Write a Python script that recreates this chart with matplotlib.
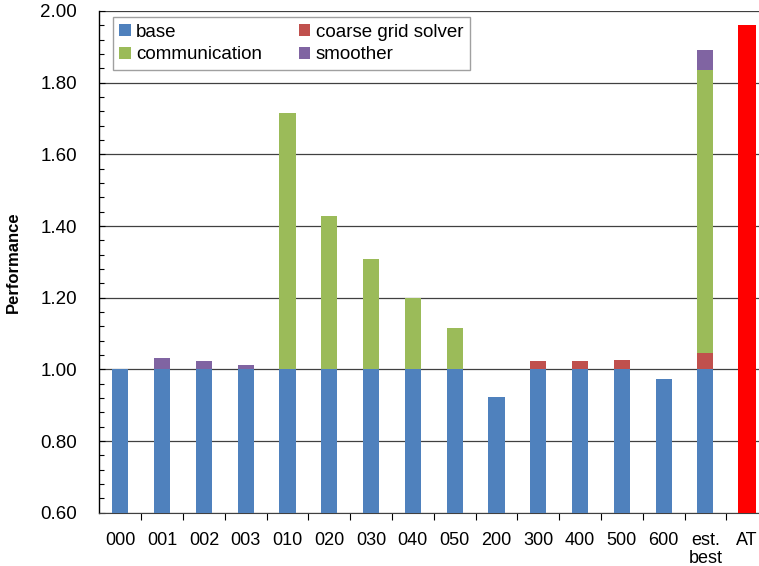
import matplotlib
matplotlib.use('Agg')
import matplotlib.pyplot as plt
from matplotlib.ticker import MultipleLocator, FixedLocator
import numpy as np

plt.rcParams['font.family'] = ['Liberation Sans', 'DejaVu Sans']

categories = ['000', '001', '002', '003', '010', '020', '030', '040', '050',
              '200', '300', '400', '500', '600', 'est.\nbest', 'AT']
base = [1.00, 1.00, 1.00, 1.00, 1.00, 1.00, 1.00, 1.00, 1.00,
        0.924, 1.00, 1.00, 1.00, 0.973, 1.00, 0]
coarse = [0, 0, 0, 0, 0, 0, 0, 0, 0,
          0, 0.023, 0.023, 0.026, 0, 0.047, 0]
comm = [0, 0, 0, 0, 0.714, 0.428, 0.307, 0.198, 0.115,
        0, 0, 0, 0, 0, 0.789, 0]
smoother = [0, 0.031, 0.023, 0.012, 0, 0, 0, 0, 0,
            0, 0, 0, 0, 0, 0.056, 0]
at = [0, 0, 0, 0, 0, 0, 0, 0, 0, 0, 0, 0, 0, 0, 0, 1.961]

fig = plt.figure(figsize=(7.59, 5.66), dpi=100)
ax = fig.add_axes([0.131, 0.094, 0.881, 0.8866])

x = np.arange(len(categories))
w = 0.385
b = np.array(base)
c = np.array(coarse)
m = np.array(comm)
s = np.array(smoother)

ax.bar(x, b, w, color='#4F81BD', label='base', zorder=3)
ax.bar(x, c, w, bottom=b, color='#C0504D', label='coarse grid solver', zorder=3)
ax.bar(x, m, w, bottom=b + c, color='#9BBB59', label='communication', zorder=3)
ax.bar(x, s, w, bottom=b + c + m, color='#8064A2', label='smoother', zorder=3)
ax.bar(x[-1], at[-1], 0.43, color='#FF0000', zorder=3)

ax.set_xlim(-0.5, len(categories) - 0.5)
ax.set_ylim(0.6, 2.0)
ax.yaxis.set_major_locator(MultipleLocator(0.2))
ax.yaxis.set_minor_locator(MultipleLocator(0.04))
ax.yaxis.set_major_formatter(matplotlib.ticker.FormatStrFormatter('%.2f'))
ax.grid(axis='y', which='major', color='#404040', lw=0.9, zorder=1)

ax.set_xticks(x)
ax.set_xticklabels(categories, fontsize=13, linespacing=1.05)
ax.xaxis.set_minor_locator(FixedLocator(np.arange(0.5, len(categories) - 0.5, 1)))
ax.tick_params(axis='x', which='major', length=0, pad=14)
ax.tick_params(axis='x', which='minor', length=5, direction='out', width=0.8)
ax.tick_params(axis='y', which='major', length=4, direction='in', labelsize=13.5, pad=16, width=0.8)
ax.tick_params(axis='y', which='minor', length=3.5, direction='in', width=0.8)

for sp in ['top', 'right']:
    ax.spines[sp].set_visible(False)
ax.spines['left'].set_linewidth(1.0)
ax.spines['bottom'].set_color('#404040')

ax.set_ylabel('Performance', fontsize=12, fontweight='bold', labelpad=14)

h, l = ax.get_legend_handles_labels()
order = [0, 2, 1, 3]
leg = ax.legend([h[i] for i in order], [l[i] for i in order], ncol=2,
                loc='upper left', bbox_to_anchor=(0.02, 0.988, 0.534, 0.0),
                mode='expand', borderaxespad=0, fontsize=13.5,
                handlelength=0.6, handleheight=0.6, handletextpad=0.3,
                labelspacing=0.3, borderpad=0.35, fancybox=False,
                edgecolor='#a0a0a0', framealpha=1)
leg.get_frame().set_linewidth(1.0)
leg.set_zorder(5)

fig.savefig('out.png', dpi=100)
